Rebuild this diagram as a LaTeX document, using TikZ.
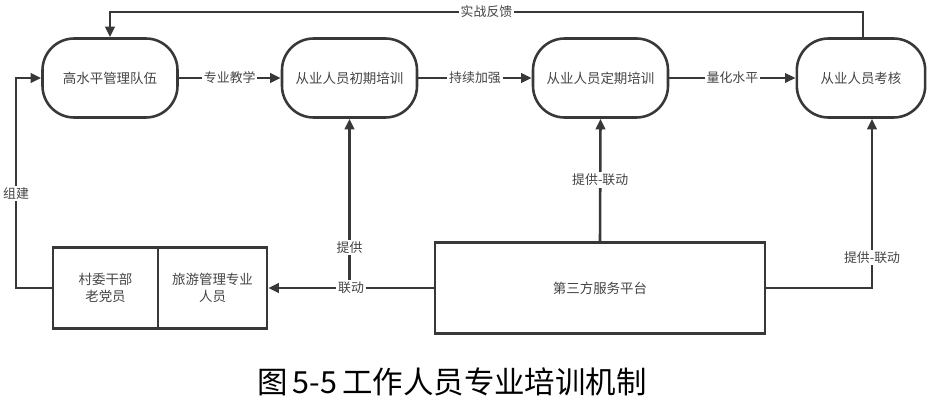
\documentclass[tikz,border=0pt]{standalone}
\usepackage{fontspec}
\setmainfont{Noto Sans CJK SC}
\usepackage{xcolor}
\usepackage{tikz}
\usetikzlibrary{arrows.meta,positioning,calc}
\definecolor{linegray}{HTML}{383838}
\definecolor{textgray}{HTML}{444444}

\begin{document}
\begin{tikzpicture}[
  x=0.03cm, y=-0.03cm,
  stage/.style={draw=linegray,line width=2.2pt,rounded corners=0.95cm,minimum width=4.05cm,minimum height=2.37cm,
                font=\fontsize{11.5}{14}\selectfont\color{textgray}},
  cell/.style={draw=linegray,line width=2.2pt,minimum height=2.43cm,align=center,
               font=\fontsize{11.5}{15}\selectfont\color{textgray}},
  lbl/.style={fill=white,inner sep=1.5pt,font=\fontsize{11}{13}\selectfont\color{textgray}},
  arr/.style={draw=linegray,line width=2.2pt,-{Triangle[length=9pt,width=8pt]}}
]
\useasboundingbox (0,0) rectangle (933,404);
% top row
\node[stage] (gs) at (110,78) {高水平管理队伍};
\node[stage] (cq) at (349.5,78) {从业人员初期培训};
\node[stage] (dq) at (600.5,78) {从业人员定期培训};
\node[stage,minimum width=3.85cm] (kh) at (861,78) {从业人员考核};
% bottom row
\node[cell,minimum width=3.15cm] (cw) at (105.5,288) {村委干部\\老党员};
\node[cell,minimum width=3.27cm] (ly) at (212.5,288) {旅游管理专业\\人员};
\node[cell,minimum width=9.9cm,minimum height=2.73cm] (pt) at (600,288) {第三方服务平台};
\coordinate (fbR) at (863,12);
\coordinate (fbL) at (110,12);
\coordinate (zjB) at (16,288);
\coordinate (zjT) at (16,78);
\coordinate (tgR) at (872,288);

\draw[arr] (gs) -- node[lbl]{专业教学} (cq);
\draw[arr] (cq) -- node[lbl]{持续加强} (dq);
\draw[arr] (dq) -- node[lbl]{量化水平} (kh);
\draw[arr] (kh.north -| fbR) -- (fbR) -- node[lbl]{实战反馈} (fbL) -- (gs.north);
\draw[arr] (cw.west) -- (zjB) -- node[lbl,pos=.45]{组建} (zjT) -- (gs.west);
\draw[arr] (cq.south |- pt.west) -- node[lbl,pos=.24]{提供} (cq.south);
\draw[arr] (pt.west) -- node[lbl]{联动} (ly.east);
\draw[arr] (pt.north) -- node[lbl]{提供-联动} (dq.south);
\draw[arr] (pt.east) -- (tgR) -- node[lbl,pos=.18]{提供-联动} (tgR |- kh.south);

\node[font=\fontsize{26}{30}\selectfont,text=black] (cap) at (452,382) {图\,5-5\,工作人员专业培训机制};
\end{tikzpicture}
\end{document}
